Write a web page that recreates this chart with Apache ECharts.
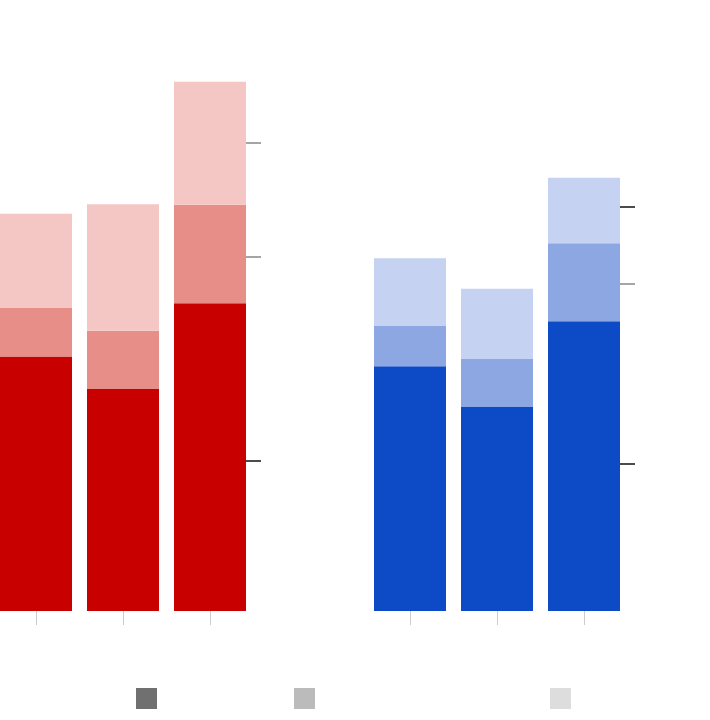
<!DOCTYPE html>
<html>
<head>
<meta charset="utf-8">
<script src="https://cdn.jsdelivr.net/npm/echarts@6/dist/echarts.min.js"></script>
<style>
  html, body { margin: 0; padding: 0; background: #fff; }
  #chart { width: 710px; height: 720px; }
</style>
</head>
<body>
<div id="chart"></div>
<script>
var categories = ['1', '2', '3'];
var layerNames = ['Base', 'Middle', 'Top'];

// red group, one array per stacked layer
var redBase = [42.4, 37.0, 51.3];
var redMiddle = [8.2, 9.7, 16.4];
var redTop = [15.6, 21.1, 20.5];

// blue group
var blueBase = [40.8, 34.1, 48.3];
var blueMiddle = [6.7, 8.0, 13.0];
var blueTop = [11.3, 11.6, 10.9];

// reference marks on the right side of each group
var redMarksGray = [78, 59];
var redMarksBlack = [25];
var blueMarksGray = [54.5];
var blueMarksBlack = [67.3, 24.6];

var redColors = ['#c80000', '#e68e87', '#f4c7c4'];
var blueColors = ['#0c4ac6', '#8ca7e2', '#c5d2f2'];
var legendColors = ['#707070', '#bbbbbb', '#dddddd'];
var legendLeft = [136, 294, 550];

function markAxis(gridIndex, values, color) {
    return {
        type: 'value',
        gridIndex: gridIndex,
        position: 'right',
        offset: -7.5,
        min: 0,
        max: 100,
        axisLine: { show: false },
        axisLabel: { show: false },
        splitLine: { show: false },
        axisTick: {
            show: true,
            length: 15,
            customValues: values,
            lineStyle: { color: color, width: 1.5 }
        }
    };
}

function baseAxis(gridIndex) {
    return {
        type: 'value',
        gridIndex: gridIndex,
        min: 0,
        max: 100,
        show: false
    };
}

function catAxis(gridIndex) {
    return {
        type: 'category',
        gridIndex: gridIndex,
        data: categories,
        axisLine: { show: false },
        axisLabel: { show: false },
        axisTick: {
            show: true,
            alignWithLabel: true,
            length: 14,
            lineStyle: { color: '#cccccc', width: 1 }
        }
    };
}

var series = [];
var redData = [redBase, redMiddle, redTop];
var blueData = [blueBase, blueMiddle, blueTop];
for (var i = 0; i < layerNames.length; i++) {
    series.push({
        name: layerNames[i],
        type: 'bar',
        stack: 'red',
        xAxisIndex: 0,
        yAxisIndex: 0,
        barWidth: 72,
        data: redData[i],
        itemStyle: { color: redColors[i] }
    });
}
for (var i = 0; i < layerNames.length; i++) {
    series.push({
        name: layerNames[i],
        type: 'bar',
        stack: 'blue',
        xAxisIndex: 1,
        yAxisIndex: 3,
        barWidth: 72,
        data: blueData[i],
        itemStyle: { color: blueColors[i] }
    });
}

var legends = [];
for (var i = 0; i < layerNames.length; i++) {
    legends.push({
        left: legendLeft[i],
        top: 688,
        padding: 0,
        itemWidth: 21,
        itemHeight: 21,
        icon: 'rect',
        formatter: function () { return ''; },
        data: [{ name: layerNames[i], itemStyle: { color: legendColors[i] } }]
    });
}

var option = {
    animation: false,
    backgroundColor: '#ffffff',
    legend: legends,
    grid: [
        { left: -7.5, top: 11, width: 261, height: 600, outerBoundsMode: 'none' },
        { left: 366.5, top: 11, width: 261, height: 600, outerBoundsMode: 'none' }
    ],
    xAxis: [catAxis(0), catAxis(1)],
    yAxis: [
        baseAxis(0),
        markAxis(0, redMarksGray, '#888888'),
        markAxis(0, redMarksBlack, '#111111'),
        baseAxis(1),
        markAxis(1, blueMarksGray, '#888888'),
        markAxis(1, blueMarksBlack, '#111111')
    ],
    series: series
};

var myChart = echarts.init(document.getElementById('chart'));
myChart.setOption(option);
</script>
</body>
</html>
